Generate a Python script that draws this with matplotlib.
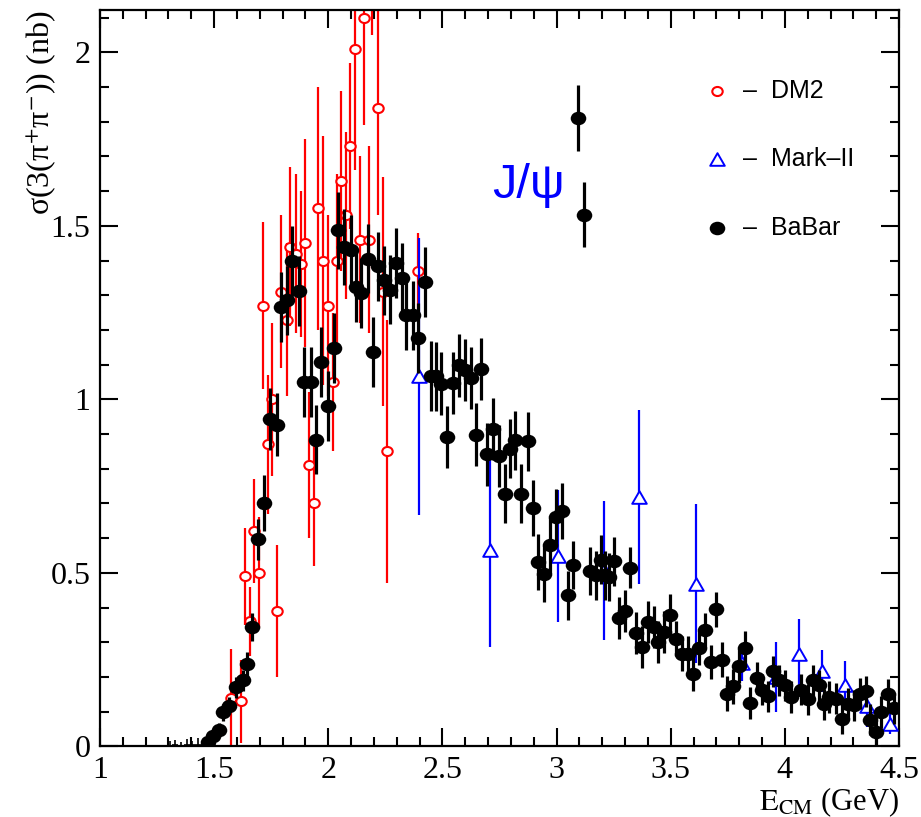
import matplotlib
matplotlib.use("Agg")
import matplotlib.pyplot as plt
from matplotlib.path import Path
from matplotlib.transforms import Affine2D
from matplotlib.ticker import MultipleLocator, FuncFormatter

plt.rcParams['font.family'] = ['Liberation Serif', 'DejaVu Serif']
plt.rcParams['mathtext.fontset'] = 'stix'

# ---------------- data ----------------
# BaBar (black filled circles)
babar_E = [1.475, 1.495, 1.520, 1.540, 1.567, 1.594, 1.625, 1.645, 1.667, 1.693,
           1.718, 1.745, 1.774, 1.794, 1.818, 1.843, 1.872, 1.894, 1.923, 1.945,
           1.967, 1.997, 2.023, 2.044, 2.071, 2.099, 2.121, 2.143, 2.173, 2.195,
           2.219, 2.246, 2.272, 2.297, 2.322, 2.341, 2.373, 2.395, 2.422, 2.451,
           2.473, 2.495, 2.520, 2.547, 2.571, 2.598, 2.623, 2.645, 2.671, 2.697,
           2.722, 2.747, 2.774, 2.795, 2.820, 2.844, 2.873, 2.898, 2.920, 2.946,
           2.971, 2.996, 3.023, 3.048, 3.074, 3.093, 3.122, 3.147, 3.172, 3.194,
           3.213, 3.228, 3.250, 3.272, 3.301, 3.323, 3.350, 3.375, 3.400, 3.426,
           3.445, 3.470, 3.499, 3.524, 3.551, 3.577, 3.599, 3.624, 3.650, 3.675,
           3.700, 3.723, 3.748, 3.773, 3.797, 3.826, 3.848, 3.876, 3.898, 3.927,
           3.949, 3.976, 4.002, 4.027, 4.071, 4.100, 4.125, 4.151, 4.173, 4.195,
           4.225, 4.251, 4.276, 4.301, 4.327, 4.354, 4.371, 4.400, 4.422, 4.452,
           4.477]
babar_val = [0.012, 0.030, 0.048, 0.098, 0.117, 0.170, 0.190, 0.237, 0.343, 0.596,
             0.701, 0.944, 0.927, 1.266, 1.285, 1.399, 1.312, 1.050, 1.050, 0.884,
             1.108, 0.981, 1.148, 1.487, 1.439, 1.431, 1.324, 1.306, 1.405, 1.136,
             1.383, 1.343, 1.316, 1.393, 1.350, 1.242, 1.242, 1.177, 1.338, 1.067,
             1.066, 1.045, 0.891, 1.047, 1.098, 1.084, 1.061, 0.898, 1.088, 0.841,
             0.915, 0.836, 0.728, 0.858, 0.882, 0.728, 0.879, 0.687, 0.531, 0.496,
             0.579, 0.661, 0.678, 0.435, 0.522, 1.810, 1.532, 0.505, 0.493, 0.538,
             0.493, 0.488, 0.533, 0.370, 0.390, 0.515, 0.327, 0.286, 0.358, 0.344,
             0.300, 0.329, 0.378, 0.310, 0.267, 0.267, 0.209, 0.283, 0.334, 0.243,
             0.395, 0.250, 0.152, 0.173, 0.231, 0.283, 0.125, 0.197, 0.163, 0.144,
             0.216, 0.190, 0.176, 0.142, 0.163, 0.135, 0.190, 0.176, 0.121, 0.142,
             0.137, 0.080, 0.123, 0.118, 0.152, 0.159, 0.077, 0.041, 0.099, 0.150,
             0.109]
babar_err = [0.010, 0.015, 0.020, 0.025, 0.025, 0.030, 0.030, 0.035, 0.040, 0.060,
             0.080, 0.090, 0.090, 0.100, 0.100, 0.100, 0.100, 0.100, 0.100, 0.100,
             0.100, 0.100, 0.100, 0.110, 0.110, 0.100, 0.100, 0.100, 0.100, 0.100,
             0.100, 0.100, 0.100, 0.100, 0.100, 0.100, 0.100, 0.100, 0.100, 0.100,
             0.100, 0.090, 0.090, 0.090, 0.090, 0.090, 0.090, 0.090, 0.090, 0.090,
             0.090, 0.090, 0.085, 0.085, 0.085, 0.085, 0.085, 0.080, 0.080, 0.080,
             0.080, 0.080, 0.080, 0.070, 0.070, 0.095, 0.093, 0.070, 0.070, 0.070,
             0.070, 0.070, 0.070, 0.060, 0.060, 0.060, 0.060, 0.060, 0.060, 0.060,
             0.060, 0.060, 0.060, 0.050, 0.050, 0.050, 0.050, 0.050, 0.050, 0.050,
             0.050, 0.050, 0.050, 0.050, 0.050, 0.050, 0.045, 0.045, 0.045, 0.045,
             0.045, 0.045, 0.045, 0.045, 0.045, 0.045, 0.045, 0.045, 0.045, 0.045,
             0.045, 0.045, 0.045, 0.045, 0.045, 0.045, 0.045, 0.045, 0.045, 0.045,
             0.045]

# BaBar points near threshold (tiny)
thr_E = [1.305, 1.330, 1.355, 1.380, 1.405, 1.430, 1.455]
thr_val = [0.002, 0.003, 0.002, 0.004, 0.003, 0.005, 0.006]
thr_err = [0.012, 0.015, 0.010, 0.018, 0.012, 0.020, 0.015]

# DM2 (red open circles)
dm2_E = [1.574, 1.619, 1.635, 1.657, 1.674, 1.696, 1.715, 1.737, 1.755, 1.777,
         1.792, 1.818, 1.833, 1.857, 1.882, 1.897, 1.916, 1.938, 1.955, 1.975,
         2.000, 2.019, 2.037, 2.055, 2.077, 2.096, 2.118, 2.139, 2.158, 2.177,
         2.190, 2.217, 2.238, 2.258, 2.392]
dm2_val = [0.14, 0.13, 0.49, 0.36, 0.62, 0.50, 1.27, 0.87, 1.00, 0.39,
           1.31, 1.23, 1.44, 1.42, 1.39, 1.45, 0.81, 0.70, 1.55, 1.40,
           1.27, 1.05, 1.40, 1.63, 1.53, 1.73, 2.01, 1.46, 2.10, 1.46,
           2.40, 1.84, 1.31, 0.85, 1.37]
dm2_err = [0.14, 0.12, 0.14, 0.10, 0.15, 0.16, 0.24, 0.20, 0.22, 0.19,
           0.22, 0.22, 0.23, 0.23, 0.21, 0.30, 0.21, 0.18, 0.35, 0.36,
           0.26, 0.20, 0.25, 0.26, 0.24, 0.24, 0.35, 0.24, 0.31, 0.27,
           0.35, 0.31, 0.33, 0.38, 0.11]

# Mark-II (blue open triangles)
mk2_E = [2.398, 2.708, 3.008, 3.208, 3.360, 3.609, 3.814, 3.960, 4.063, 4.162,
         4.264, 4.360, 4.462]
mk2_val = [1.066, 0.566, 0.548, 0.507, 0.718, 0.469, 0.239, 0.200, 0.267, 0.217,
           0.176, 0.115, 0.065]
mk2_err = [0.40, 0.28, 0.19, 0.20, 0.25, 0.23, 0.05, 0.10, 0.10, 0.06,
           0.07, 0.06, 0.03]

legend_labels = ['\u2013  DM2', '\u2013  Mark\u2013II', '\u2013  BaBar']

# ---------------- markers ----------------
ellipse = Path.unit_circle().transformed(Affine2D().scale(1.0, 0.87))
tri = Path([(-1, -0.866), (1, -0.866), (0, 0.866), (-1, -0.866)],
           [Path.MOVETO, Path.LINETO, Path.LINETO, Path.CLOSEPOLY])

W, H = 921, 817
fig = plt.figure(figsize=(W / 100, H / 100), dpi=100)
ax = fig.add_axes([100 / W, 70.7 / H, 799 / W, 736.3 / H])

# DM2
ax.errorbar(dm2_E, dm2_val, yerr=dm2_err, fmt='none', ecolor='red',
            elinewidth=1.6, zorder=2)
ax.plot(dm2_E, dm2_val, ls='none', marker=ellipse, ms=7.5, mfc='white',
        mec='red', mew=1.5, zorder=2.1)

# Mark-II
ax.errorbar(mk2_E, mk2_val, yerr=mk2_err, fmt='none', ecolor='blue',
            elinewidth=1.6, zorder=3)
ax.plot(mk2_E, mk2_val, ls='none', marker=tri, ms=10.5, mfc='white',
        mec='blue', mew=1.4, zorder=3.1)

# BaBar
ax.errorbar(thr_E, thr_val, yerr=thr_err, xerr=0.0125, fmt='none',
            ecolor='black', elinewidth=1.2, zorder=4)
ax.errorbar(babar_E, babar_val, yerr=babar_err, fmt='none', ecolor='black',
            elinewidth=2.3, zorder=4)
ax.plot(babar_E, babar_val, ls='none', marker=ellipse, ms=11.2, mfc='black',
        mec='black', mew=0, zorder=4.1)

# J/psi annotation
ax.text(2.717, 1.579, 'J/\u03c8', color='blue', fontsize=35,
        family=['Liberation Sans', 'DejaVu Sans'], va='baseline', ha='left',
        zorder=5)

# legend (manual)
leg_y = [0.890, 0.798, 0.704]
ax.plot([0.772], [leg_y[0]], transform=ax.transAxes, marker=ellipse, ms=7.5,
        mfc='white', mec='red', mew=1.5, clip_on=False, ls='none')
ax.plot([0.772], [leg_y[1]], transform=ax.transAxes, marker=tri, ms=10.5,
        mfc='white', mec='blue', mew=1.4, clip_on=False, ls='none')
ax.plot([0.772], [leg_y[2]], transform=ax.transAxes, marker=ellipse, ms=11.2,
        mfc='black', mec='black', mew=0, clip_on=False, ls='none')
for lbl, yy in zip(legend_labels, leg_y):
    ax.text(0.805, yy, lbl, transform=ax.transAxes, fontsize=18,
            family=['Liberation Sans', 'DejaVu Sans'], va='center', ha='left')

# axes
ax.set_xlim(1, 4.5)
ax.set_ylim(0, 2.122)
ax.xaxis.set_major_locator(MultipleLocator(0.5))
ax.xaxis.set_minor_locator(MultipleLocator(0.1))
ax.yaxis.set_major_locator(MultipleLocator(0.5))
ax.yaxis.set_minor_locator(MultipleLocator(0.1))
fmt = FuncFormatter(lambda v, p: f'{v:g}')
ax.xaxis.set_major_formatter(fmt)
ax.yaxis.set_major_formatter(fmt)
ax.tick_params(which='both', direction='in', top=True, right=True, width=1.5,
               labelsize=23)
ax.tick_params(which='major', length=13)
ax.tick_params(which='minor', length=6.5)
ax.tick_params(axis='x', pad=7)
ax.tick_params(axis='y', pad=7)
for s in ax.spines.values():
    s.set_linewidth(1.6)

fig.text(42 / W, 807 / H, '\u03c3(3(\u03c0$^{+}$\u03c0$^{-}$)) (nb)', rotation=90,
         ha='center', va='top', fontsize=23)
fig.text(899 / W, (H - 810) / H, r'$\mathrm{E_{CM}}$ (GeV)', ha='right',
         va='baseline', fontsize=22)

fig.savefig('out.png', dpi=100)
